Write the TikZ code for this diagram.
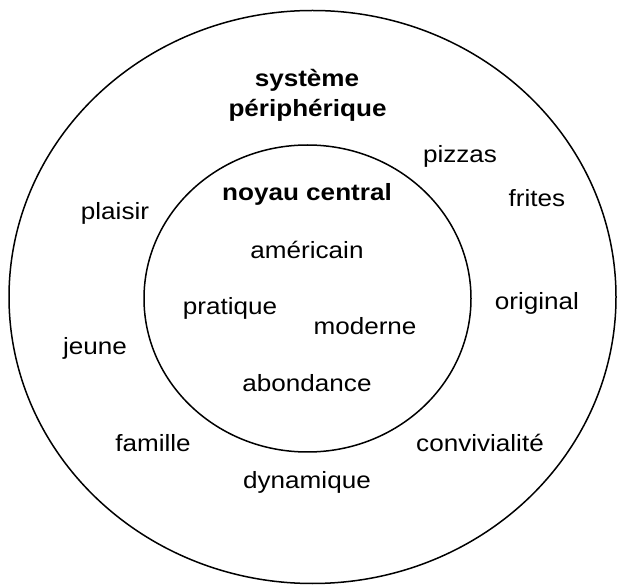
\documentclass[tikz,border=0pt]{standalone}
\usepackage{fontspec}
\setmainfont[FakeStretch=1.11]{Liberation Sans}
\usetikzlibrary{shapes.geometric,positioning}

\begin{document}
\begin{tikzpicture}[
  x=1pt,y=-1pt,
  ring/.style={draw,ellipse,line width=1.5pt,inner sep=0pt},
  word/.style={anchor=base,inner sep=0pt,font=\fontsize{23.5}{28}\selectfont},
  title/.style={word,font=\fontsize{23.5}{28}\selectfont\bfseries}
]
\useasboundingbox (0,0) rectangle (619,585);

% the two rings
\node[ring,minimum width=607pt,minimum height=573pt] (periph) at (312.5,297) {};
\node[ring,minimum width=327pt,minimum height=307pt] (noyau) at (307.5,298.5) {};

% titles
\node[title] (systeme) at (307,87) {système};
\node[title] (peripherique) at (307.5,117) {périphérique};
\node[title] (central) at (307,201) {noyau central};

% central core
\node[word] (americain) at (307,259) {américain};
\node[word] (pratique) at (230,315) {pratique};
\node[word] (moderne) at (365,335) {moderne};
\node[word] (abondance) at (307,392) {abondance};

% peripheral system
\node[word] (pizzas) at (460,163) {pizzas};
\node[word] (frites) at (537,207) {frites};
\node[word] (plaisir) at (115,220) {plaisir};
\node[word] (original) at (537,310) {original};
\node[word] (jeune) at (95,355) {jeune};
\node[word] (famille) at (153,451) {famille};
\node[word] (convivialite) at (480,451) {convivialité};
\node[word] (dynamique) at (307,488) {dynamique};
\end{tikzpicture}
\end{document}
